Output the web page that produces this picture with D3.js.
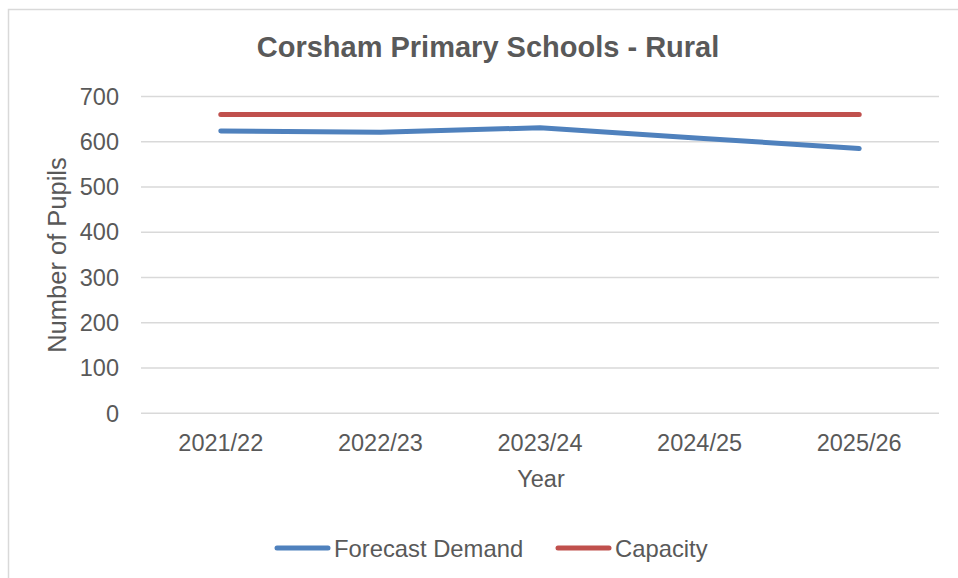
<!DOCTYPE html>
<html>
<head>
<meta charset="utf-8">
<script src="https://cdn.jsdelivr.net/npm/d3@7"></script>
<style>
  body { margin: 0; background: #fff; }
  text { font-family: "Liberation Sans", Arial, sans-serif; fill: #595959; }
</style>
</head>
<body>
<div id="chart"></div>
<script>
// chart data
const years = ['2021/22', '2022/23', '2023/24', '2024/25', '2025/26']
const forecastDemand = [624, 621, 631, 608, 585]
const capacity = [660, 660, 660, 660, 660]
const yTicks = [0, 100, 200, 300, 400, 500, 600, 700]

const width = 958
const height = 578

const svg = d3.select('#chart')
  .append('svg')
  .attr('width', width)
  .attr('height', height)

// outer chart border (cropped on the right and bottom)
svg.append('rect')
  .attr('x', 8.5)
  .attr('y', 9.5)
  .attr('width', 1000)
  .attr('height', 600)
  .attr('fill', '#fff')
  .attr('stroke', '#d9d9d9')
  .attr('stroke-width', 1.5)

const x = d3.scaleBand()
  .domain(years)
  .range([141, 939])

const y = d3.scaleLinear()
  .domain([0, 700])
  .range([413.3, 96.5])

// gridlines
svg.append('g')
  .selectAll('line')
  .data(yTicks)
  .join('line')
  .attr('x1', 141)
  .attr('x2', 939)
  .attr('y1', d => y(d))
  .attr('y2', d => y(d))
  .attr('stroke', '#d9d9d9')
  .attr('stroke-width', 1.5)

// y tick labels
svg.append('g')
  .selectAll('text')
  .data(yTicks)
  .join('text')
  .attr('x', 119)
  .attr('y', d => y(d))
  .attr('dy', '0.35em')
  .attr('text-anchor', 'end')
  .style('font-size', '23.5px')
  .text(d => d)

// x tick labels
svg.append('g')
  .selectAll('text')
  .data(years)
  .join('text')
  .attr('x', d => x(d) + x.bandwidth() / 2)
  .attr('y', 451)
  .attr('text-anchor', 'middle')
  .style('font-size', '23.5px')
  .text(d => d)

const line = d3.line()
  .x((d, i) => x(years[i]) + x.bandwidth() / 2)
  .y(d => y(d))

const series = [
  { name: 'Forecast Demand', values: forecastDemand, color: '#4f81bd' },
  { name: 'Capacity', values: capacity, color: '#c0504d' }
]

svg.append('g')
  .selectAll('path')
  .data(series)
  .join('path')
  .attr('d', d => line(d.values))
  .attr('fill', 'none')
  .attr('stroke', d => d.color)
  .attr('stroke-width', 5)
  .attr('stroke-linecap', 'round')
  .attr('stroke-linejoin', 'round')

// title
svg.append('text')
  .attr('x', 488)
  .attr('y', 57)
  .attr('text-anchor', 'middle')
  .style('font-size', '29px')
  .style('font-weight', 'bold')
  .text('Corsham Primary Schools - Rural')

// axis titles
svg.append('text')
  .attr('transform', 'translate(66,255) rotate(-90)')
  .attr('text-anchor', 'middle')
  .style('font-size', '25.5px')
  .text('Number of Pupils')

svg.append('text')
  .attr('x', 541)
  .attr('y', 487)
  .attr('text-anchor', 'middle')
  .style('font-size', '23.5px')
  .text('Year')

// legend
const legendX = [275, 556]
const legend = svg.append('g')
  .selectAll('g')
  .data(series)
  .join('g')
  .attr('transform', (d, i) => `translate(${legendX[i]},548)`)

legend.append('line')
  .attr('x1', 2)
  .attr('x2', 53)
  .attr('stroke', d => d.color)
  .attr('stroke-width', 5)
  .attr('stroke-linecap', 'round')

legend.append('text')
  .attr('x', 59)
  .attr('y', 8.5)
  .style('font-size', '23.8px')
  .text(d => d.name)
</script>
</body>
</html>
